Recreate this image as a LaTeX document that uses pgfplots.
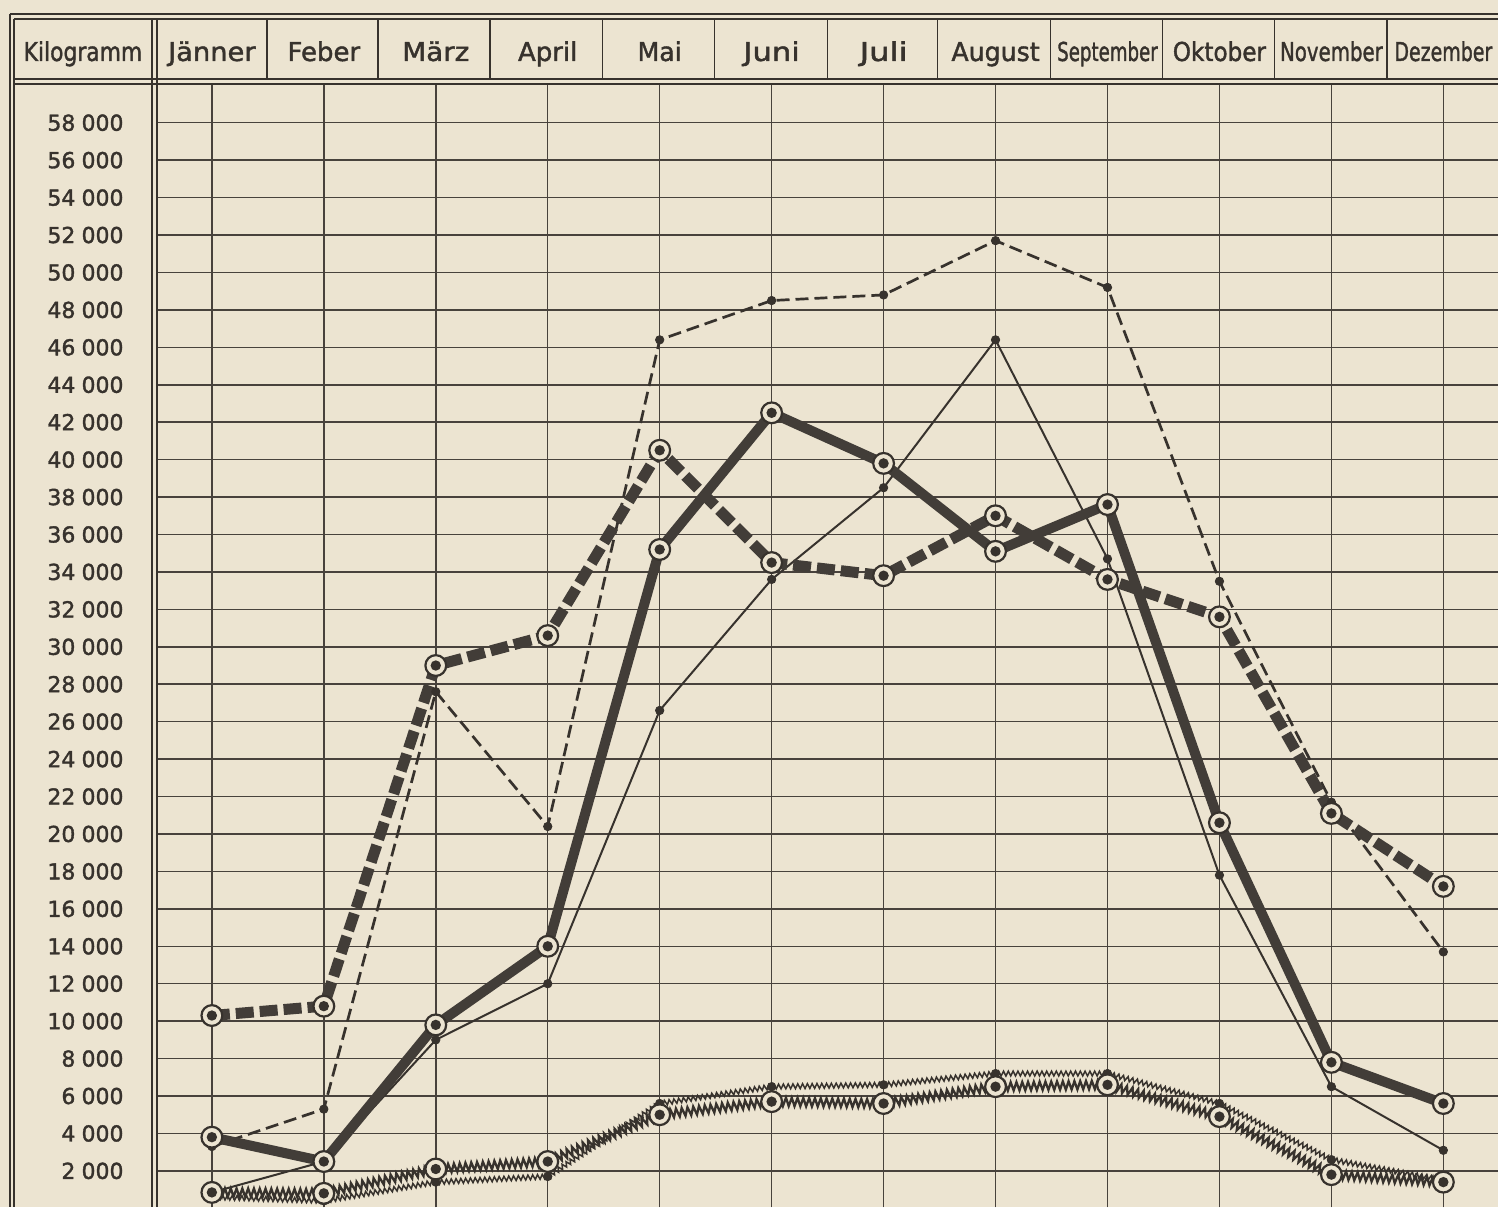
\documentclass[border=0pt]{standalone}
\usepackage{graphicx}
\usepackage{fontspec}
\setmainfont{DejaVu Sans}
\newfontfamily\heavy{DejaVu Sans}[RawFeature={embolden=1.6}]
\usepackage{pgfplots}
\pgfplotsset{compat=1.18}
\usepackage{pgfplotstable}
\usetikzlibrary{decorations.pathmorphing}

\definecolor{paper}{RGB}{236,228,209}
\definecolor{ink}{RGB}{55,50,45}
\definecolor{inkthick}{RGB}{66,61,56}
\definecolor{gridc}{RGB}{72,66,60}

\pgfdeclareplotmark{ringdot}{%
  \pgfsetfillcolor{paper}%
  \pgfpathcircle{\pgfpointorigin}{2\pgfplotmarksize}%
  \pgfusepath{fill,stroke}%
  \pgfsetfillcolor{ink}%
  \pgfpathcircle{\pgfpointorigin}{\pgfplotmarksize}%
  \pgfusepath{fill}}

\pgfplotstableread{
m  A     B     C     D     E    F
1  3300  850   3800  10300 850  600
2  5300  2500  2500  10800 800  400
3  27600 9000  9800  29000 2100 1400
4  20400 12000 14000 30600 2500 1700
5  46400 26600 35200 40500 5000 5600
6  48500 33600 42500 34500 5700 6500
7  48800 38500 39800 33800 5600 6600
8  51700 46400 35100 37000 6500 7200
9  49200 34700 37600 33600 6600 7200
10 33500 17800 20600 31600 4900 5600
11 21700 6500  7800  21100 1800 2600
12 13700 3100  5600  17200 1400 1500
}\data

\newcommand{\hfont}{\heavy\fontsize{13}{15}\selectfont}
\newcommand{\yfont}{\heavy\fontsize{11}{13}\selectfont}

\begin{document}
\begin{tikzpicture}
\begin{scope}[x=0.5pt,y=-0.5pt]
  \path[use as bounding box] (0,0) rectangle (1499,1208);
  \fill[paper] (0,0) rectangle (1499,1208);
\end{scope}

\begin{axis}[
  at={(78.5pt,-42pt)}, anchor=north west,
  width=671pt, height=562pt, scale only axis,
  xmin=0.509, xmax=12.49, ymin=51, ymax=60072,
  axis line style={draw=none},
  tick style={draw=none}, major tick length=0pt,
  xtick={1,...,12},
  xticklabels={\scalebox{1.05}[1]{Jänner},\scalebox{1.0}[1]{Feber},\scalebox{1.07}[1]{März},\scalebox{1.0}[1]{April},\scalebox{0.97}[1]{Mai},\scalebox{1.18}[1]{Juni},\scalebox{1.24}[1]{Juli},\scalebox{0.97}[1]{August},\scalebox{0.70}[1]{September},\scalebox{0.89}[1]{Oktober},\scalebox{0.76}[1]{November},\scalebox{0.73}[1]{Dezember}},
  xticklabel pos=upper,
  x tick label style={anchor=base, yshift=11.5pt, font=\hfont, text=ink},
  ytick={2000,4000,...,58000},
  scaled y ticks=false,
  y tick label style={anchor=east, inner sep=0pt, xshift=-16.5pt, font=\yfont, text=ink},
  /pgf/number format/.cd, 1000 sep={\hspace{0.28em}}, assume math mode=true, /pgfplots/.cd,
  grid=major,
  major grid style={draw=gridc, line width=0.75pt},
  clip=true,
]
% zigzag series
\addplot[draw=ink, line width=0.75pt, mark=none, decorate,
  decoration={zigzag, segment length=2.4pt, amplitude=1.2pt}] table[x=m,y=F] {\data};
\addplot[draw=ink, line width=1.15pt, mark=none, decorate,
  decoration={zigzag, segment length=2.9pt, amplitude=2.1pt}] table[x=m,y=E] {\data};
% thin series
\addplot[draw=ink, line width=1pt, mark=none] table[x=m,y=B] {\data};
\addplot[draw=ink, line width=1.35pt, mark=none, dash pattern=on 6.5pt off 3pt] table[x=m,y=A] {\data};
% thick series
\addplot[draw=inkthick, line width=5pt, mark=none, line join=round] table[x=m,y=C] {\data};
\addplot[draw=inkthick, line width=5.5pt, mark=none, dash pattern=on 9pt off 3pt] table[x=m,y=D] {\data};
% small dots
\addplot[only marks, mark=*, mark size=2.1pt, mark options={fill=ink, draw=ink}] table[x=m,y=A] {\data};
\addplot[only marks, mark=*, mark size=2.1pt, mark options={fill=ink, draw=ink}] table[x=m,y=B] {\data};
\addplot[only marks, mark=*, mark size=2.1pt, mark options={fill=ink, draw=ink}] table[x=m,y=F] {\data};
% ring markers
\addplot[only marks, mark=ringdot, mark size=2.6pt, mark options={draw=ink, line width=1.1pt}] table[x=m,y=E] {\data};
\addplot[only marks, mark=ringdot, mark size=2.6pt, mark options={draw=ink, line width=1.1pt}] table[x=m,y=C] {\data};
\addplot[only marks, mark=ringdot, mark size=2.6pt, mark options={draw=ink, line width=1.1pt}] table[x=m,y=D] {\data};
\end{axis}

\begin{scope}[x=0.5pt,y=-0.5pt, draw=ink, line width=0.8pt]
  % outer frame
  \draw (10,14) -- (1499,14);
  \draw (14,19) -- (1499,19);
  \draw (10,14) -- (10,1208);
  \draw (14,19) -- (14,1208);
  % header bottom double line
  \draw (14,79) -- (1499,79);
  \draw (14,84) -- (1499,84);
  % label column double line
  \draw (152,19) -- (152,1208);
  \draw (157,19) -- (157,1208);
  % month separators
  \foreach \xx in {267,378,490,603,715,828,938,1051,1163,1275,1388}
    \draw (\xx,19) -- (\xx,79);
  \node[anchor=base, inner sep=0pt, font=\hfont, text=ink] at (83,61) {\scalebox{0.84}[1]{Kilogramm}};
\end{scope}
\end{tikzpicture}
\end{document}
